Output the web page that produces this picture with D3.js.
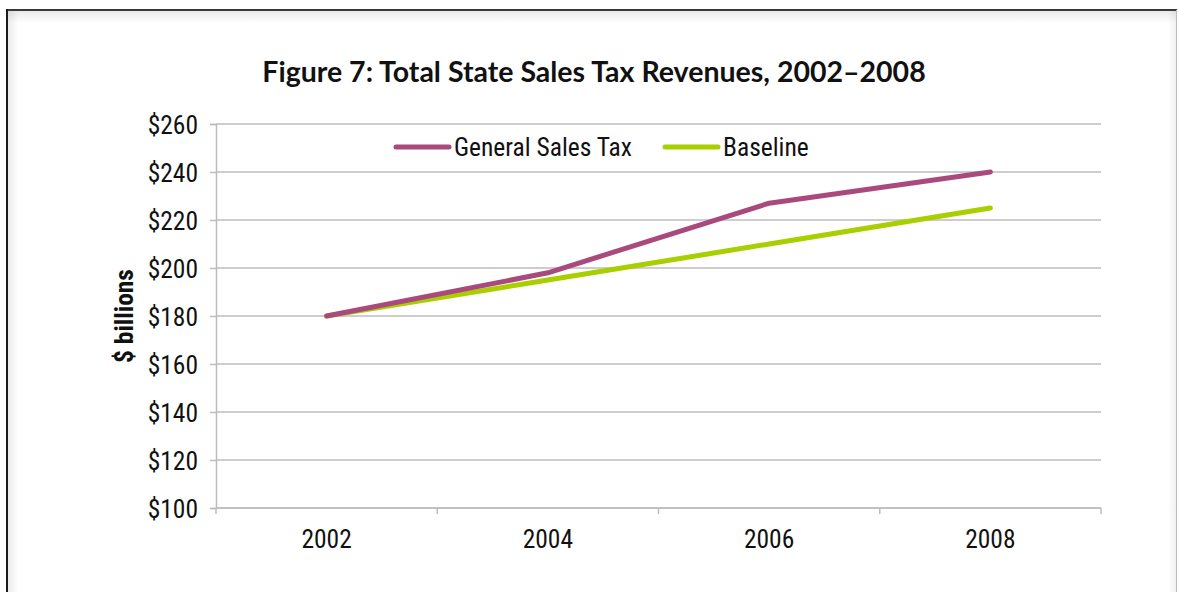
<!DOCTYPE html>
<html>
<head>
<meta charset="utf-8">
<script src="https://cdn.jsdelivr.net/npm/d3@7"></script>
<style>
  html, body { margin: 0; padding: 0; background: #fff; }
  svg { display: block; }
</style>
</head>
<body>
<svg id="chart" width="1178" height="592"></svg>
<script>
// Chart data
const years = ["2002", "2004", "2006", "2008"];
const generalSalesTax = [180, 198, 227, 240];
const baseline = [180, 195, 210, 225];
const yTicks = [100, 120, 140, 160, 180, 200, 220, 240, 260];
const seriesNames = ["General Sales Tax", "Baseline"];
const seriesColors = ["#AA4A7C", "#A8CF00"];

const svg = d3.select("#chart");
const W = 1178, H = 592;
const narrow = "'Liberation Sans Narrow', 'Arial Narrow', 'Roboto Condensed', sans-serif";
const labelSize = 25.5;

// Frame with a soft inner shadow
const defs = svg.append("defs");
const gTop = defs.append("linearGradient").attr("id", "shTop").attr("x1", 0).attr("y1", 0).attr("x2", 0).attr("y2", 1);
gTop.append("stop").attr("offset", 0).attr("stop-color", "#000").attr("stop-opacity", 0.08);
gTop.append("stop").attr("offset", 1).attr("stop-color", "#000").attr("stop-opacity", 0);
const gLeft = defs.append("linearGradient").attr("id", "shLeft").attr("x1", 0).attr("y1", 0).attr("x2", 1).attr("y2", 0);
gLeft.append("stop").attr("offset", 0).attr("stop-color", "#000").attr("stop-opacity", 0.08);
gLeft.append("stop").attr("offset", 1).attr("stop-color", "#000").attr("stop-opacity", 0);
const gRight = defs.append("linearGradient").attr("id", "shRight").attr("x1", 1).attr("y1", 0).attr("x2", 0).attr("y2", 0);
gRight.append("stop").attr("offset", 0).attr("stop-color", "#000").attr("stop-opacity", 0.06);
gRight.append("stop").attr("offset", 1).attr("stop-color", "#000").attr("stop-opacity", 0);

svg.append("rect").attr("x", 8).attr("y", 11).attr("width", 1168).attr("height", 12).attr("fill", "url(#shTop)");
svg.append("rect").attr("x", 8).attr("y", 11).attr("width", 10).attr("height", H).attr("fill", "url(#shLeft)");
svg.append("rect").attr("x", 1168).attr("y", 11).attr("width", 8).attr("height", H).attr("fill", "url(#shRight)");
svg.append("line").attr("x1", 7).attr("x2", 1177).attr("y1", 10).attr("y2", 10).attr("stroke", "#3a3a3a").attr("stroke-width", 2);
svg.append("line").attr("x1", 7).attr("x2", 7).attr("y1", 9).attr("y2", H).attr("stroke", "#1a1a1a").attr("stroke-width", 2);
svg.append("line").attr("x1", 1176.5).attr("x2", 1176.5).attr("y1", 10).attr("y2", H).attr("stroke", "#bdbdbd").attr("stroke-width", 1);

// Title
svg.append("text")
  .attr("x", 594).attr("y", 82)
  .attr("text-anchor", "middle")
  .attr("font-family", "Lato, 'Open Sans', sans-serif")
  .attr("font-weight", 700)
  .attr("font-size", 28.5)
  .attr("fill", "#111")
  .text("Figure 7: Total State Sales Tax Revenues, 2002–2008");

// Plot geometry
const plot = { left: 216, right: 1101, top: 124, bottom: 508 };

const x = d3.scaleBand().domain(years).range([plot.left, plot.right]).paddingInner(0).paddingOuter(0);
const y = d3.scaleLinear().domain([100, 260]).range([plot.bottom, plot.top]);

// Horizontal gridlines
svg.append("g")
  .selectAll("line")
  .data(yTicks)
  .join("line")
  .attr("x1", plot.left).attr("x2", plot.right)
  .attr("y1", d => y(d)).attr("y2", d => y(d))
  .attr("stroke", "#bcbcbc").attr("stroke-width", 1.5);

// Y axis
const yAxis = svg.append("g")
  .attr("transform", `translate(${plot.left},0)`)
  .call(d3.axisLeft(y).tickValues(yTicks).tickSize(6).tickPadding(12).tickFormat(d => "$" + d));
yAxis.select(".domain").attr("stroke", "#bcbcbc").attr("stroke-width", 1.5);
yAxis.selectAll(".tick line").attr("stroke", "#bcbcbc").attr("stroke-width", 1.5);
yAxis.selectAll(".tick text")
  .attr("font-family", narrow).attr("font-size", labelSize).attr("fill", "#111").attr("dy", "0.36em");

// X axis: ticks at category boundaries, labels centred in bands
const boundaries = years.map(d => x(d)).concat([plot.right]);
svg.append("line")
  .attr("x1", plot.left).attr("x2", plot.right)
  .attr("y1", plot.bottom).attr("y2", plot.bottom)
  .attr("stroke", "#bcbcbc").attr("stroke-width", 1.5);
svg.append("g").selectAll("line").data(boundaries).join("line")
  .attr("x1", d => d).attr("x2", d => d)
  .attr("y1", plot.bottom).attr("y2", plot.bottom + 6)
  .attr("stroke", "#bcbcbc").attr("stroke-width", 1.5);
svg.append("g").selectAll("text").data(years).join("text")
  .attr("x", d => x(d) + x.bandwidth() / 2)
  .attr("y", plot.bottom + 40)
  .attr("text-anchor", "middle")
  .attr("font-family", narrow).attr("font-size", labelSize).attr("fill", "#111")
  .text(d => d);

// Y axis title
svg.append("text")
  .attr("transform", `translate(133,${(plot.top + plot.bottom) / 2}) rotate(-90)`)
  .attr("text-anchor", "middle")
  .attr("font-family", narrow).attr("font-weight", 700).attr("font-size", 25.5).attr("fill", "#111")
  .text("$ billions");

// Lines
const line = d3.line()
  .x((d, i) => x(years[i]) + x.bandwidth() / 2)
  .y(d => y(d));

[baseline, generalSalesTax].forEach((vals, k) => {
  const idx = k === 0 ? 1 : 0;
  svg.append("path")
    .datum(vals)
    .attr("d", line)
    .attr("fill", "none")
    .attr("stroke", seriesColors[idx])
    .attr("stroke-width", 5)
    .attr("stroke-linecap", "round")
    .attr("stroke-linejoin", "round");
});

// Legend
const legendItems = [
  { name: seriesNames[0], color: seriesColors[0], x: 396 },
  { name: seriesNames[1], color: seriesColors[1], x: 665 }
];
const lg = svg.append("g");
legendItems.forEach(it => {
  lg.append("line")
    .attr("x1", it.x).attr("x2", it.x + 53)
    .attr("y1", 147).attr("y2", 147)
    .attr("stroke", it.color).attr("stroke-width", 5).attr("stroke-linecap", "round");
  lg.append("text")
    .attr("x", it.x + 58).attr("y", 147).attr("dy", "0.36em")
    .attr("font-family", narrow).attr("font-size", labelSize).attr("fill", "#111")
    .text(it.name);
});
</script>
</body>
</html>
